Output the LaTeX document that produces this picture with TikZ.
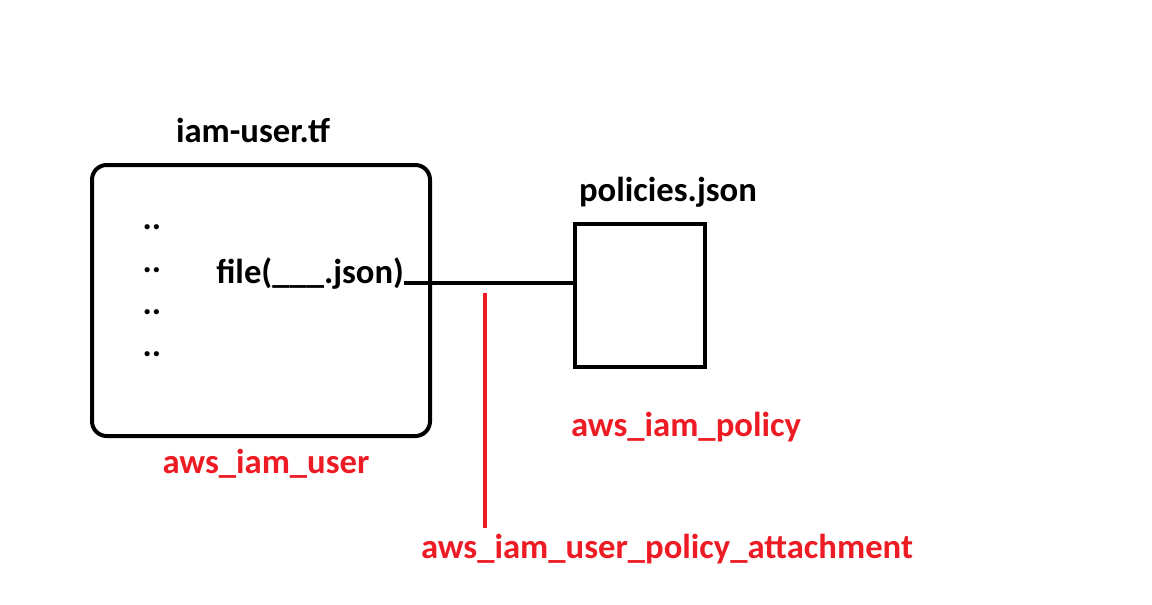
\documentclass[tikz,border=0pt]{standalone}
\usepackage{fontspec}
\setmainfont{Carlito}
\usetikzlibrary{positioning}
\definecolor{paintred}{HTML}{ED1C24}
\tikzstyle{filebox}=[draw, line width=3pt, rounded corners=11pt, inner sep=0, outer sep=0]
\tikzstyle{title}=[font=\fontsize{26}{30}\selectfont\bfseries, inner sep=0]
\tikzstyle{resource}=[title, text=paintred]
\tikzstyle{link}=[line width=3pt]

\begin{document}
\begin{tikzpicture}[x=0.75pt, y=-0.75pt]
    \useasboundingbox (0, 0) rectangle (1152, 604);
    \node[filebox, minimum width=253.5pt, minimum height=203.25pt] (user) at (261, 300.5) {};
    \node[filebox, rounded corners=0, minimum width=97.5pt, minimum height=107.25pt] (policy) at (640, 295.5) {};
    \node[title] (usertf) at (253, 130) {iam-user.tf};
    \node[title] (polfile) at (668, 192) {policies.json};
    \node[title, anchor=base west] (fileref) at (216, 283) {file(\_\_\_.json)};
    \foreach \y/\n in {227/a, 270/b, 312/c, 354/d}
        \node[title] (dots\n) at (152, \y) {..};
    \node[resource] (iamuser) at (266, 464) {aws\_iam\_user};
    \node[resource] (iampolicy) at (686, 427) {aws\_iam\_policy};
    \node[resource] (attach) at (667, 549) {aws\_iam\_user\_policy\_attachment};
    \coordinate (attachtop) at (485, 293);
    \coordinate (attachend) at (485, 528);
    \draw[link] (fileref.base east) -- (fileref.base east -| policy.west);
    \draw[link, paintred] (attachtop) -- (attachend);
\end{tikzpicture}
\end{document}
